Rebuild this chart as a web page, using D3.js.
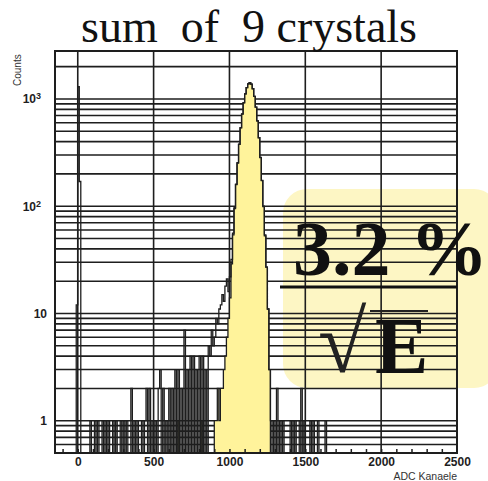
<!DOCTYPE html>
<html>
<head>
<meta charset="UTF-8" />
<script src="https://cdn.jsdelivr.net/npm/d3@7"></script>
<title>sum of 9 crystals</title>
<style>
    body { margin: 0; background: white; }
    svg { display: block; }
</style>
</head>
<body>
<script>
// histogram of all events (bin left edge in ADC channels, counts), empty bins left out
const binWidth = 10;
const allBins = [
    -10, 0, 10,
    80, 110, 130, 160, 180, 200, 230, 250, 280, 300, 320, 350, 370, 390, 420, 440,
    450, 470, 490, 510, 530, 540, 560, 580, 600, 620, 640, 660, 680,
    700, 720, 740, 760, 780, 800, 820, 840, 860, 870, 880, 890,
    900, 910, 920, 930, 940, 950, 960, 970, 980, 990, 1000, 1010, 1020, 1030, 1040, 1050, 1060, 1070, 1080, 1090,
    1100, 1110, 1120, 1130, 1140, 1150, 1160, 1170, 1180, 1190, 1200, 1210, 1220, 1230, 1240, 1250, 1260, 1270,
    1290, 1310, 1330, 1350, 1400, 1420, 1440, 1450, 1470, 1490, 1530, 1550, 1580, 1630
];
const allCounts = [
    12, 1300, 170,
    1, 1, 1, 1, 1, 1, 1, 1, 1, 1, 1, 2, 1, 1, 1, 1,
    2, 2, 1, 1, 2, 3, 2, 1, 2, 2, 3, 3, 2,
    7, 3, 4, 4, 3, 4, 4, 3, 5, 4, 7, 5,
    6, 9, 8, 11, 12, 15, 13, 18, 21, 16, 22, 32, 56, 97, 161, 255, 380, 540, 725, 925,
    1115, 1276, 1385, 1420, 1376, 1247, 1058, 840, 625, 436, 285, 174, 100, 54, 27, 11, 3, 1,
    1, 2, 1, 1, 1, 1, 1, 1, 2, 1, 1, 1, 1, 1
];
// yellow (selected) histogram
const peakBins = [
    660, 810, 900, 910, 920, 930, 940, 950, 960, 970, 980, 990, 1000, 1010, 1020, 1030, 1040, 1050, 1060, 1070,
    1080, 1090, 1100, 1110, 1120, 1130, 1140, 1150, 1160, 1170, 1180, 1190, 1200, 1210, 1220, 1230, 1240, 1250, 1260
];
const peakCounts = [
    1, 1, 1, 1, 2, 1, 2, 2, 3, 4, 6, 9, 14, 29, 54, 95, 159, 252, 377, 537,
    722, 921, 1113, 1274, 1382, 1420, 1374, 1245, 1056, 839, 624, 435, 284, 173, 99, 53, 27, 11, 3
];
const xTicks = [0, 500, 1000, 1500, 2000, 2500];
const xMinor = d3.range(-100, 2500, 100);
const yTicks = [1, 10, 100, 1000];
const yGrid = [0.6, 0.7, 0.8, 0.9, 1, 2, 3, 4, 5, 6, 7, 8, 9, 10, 20, 30, 40, 50, 60, 70, 80, 90,
    100, 200, 300, 400, 500, 600, 700, 800, 900, 1000, 2000];
const supers = {100: "2", 1000: "3"};

const W = 488, H = 481;
const fLeft = 55, fRight = 457, fTop = 51, fBottom = 453;

const svg = d3.select("body").append("svg").attr("width", W).attr("height", H);

const x = d3.scaleLinear().domain([-150, 2500]).range([fLeft, fRight]);
const y = d3.scaleLog().domain([0.5, 2800]).range([fBottom, fTop]);

// resolution box behind everything
svg.append("rect")
    .attr("x", 283).attr("y", 189).attr("width", 215).attr("height", 199)
    .attr("rx", 24).attr("fill", "#fdf6c4");

// grid
const grid = svg.append("g").attr("stroke", "#1e1e1e").attr("stroke-width", 1.6);
grid.selectAll("line.h").data(yGrid).enter().append("line")
    .attr("x1", fLeft).attr("x2", fRight)
    .attr("y1", d => y(d)).attr("y2", d => y(d));
grid.selectAll("line.v").data(xTicks.slice(0, -1)).enter().append("line")
    .attr("y1", fTop).attr("y2", fBottom)
    .attr("x1", d => x(d)).attr("x2", d => x(d));

svg.append("clipPath").attr("id", "frame").append("rect")
    .attr("x", fLeft).attr("y", fTop).attr("width", fRight - fLeft).attr("height", fBottom - fTop);

function stepPoints(bins, counts) {
    const m = new Map(bins.map((b, i) => [b, counts[i]]));
    const pts = [];
    for (let b = -150; b < 2500; b += binWidth) {
        const c = m.get(b) || 0;
        const yy = c > 0 ? y(c) : fBottom;
        pts.push([x(b), yy], [x(b + binWidth), yy]);
    }
    return pts;
}

const hist = svg.append("g").attr("clip-path", "url(#frame)");
const peakPts = stepPoints(peakBins, peakCounts);
hist.append("path")
    .attr("d", d3.area().x(d => d[0]).y0(fBottom).y1(d => d[1])(peakPts))
    .attr("fill", "#fff39b");
hist.append("path")
    .attr("d", d3.line()(peakPts))
    .attr("fill", "none").attr("stroke", "#1e1e1e").attr("stroke-width", 1.3);
hist.append("path")
    .attr("d", d3.line()(stepPoints(allBins, allCounts)))
    .attr("fill", "none").attr("stroke", "#1e1e1e").attr("stroke-width", 1.3);

// minor ticks
svg.append("g")
    .attr("transform", "translate(0," + fBottom + ")")
    .call(d3.axisBottom(x).tickValues(xMinor).tickSize(-4).tickFormat(""))
    .call(g => g.select(".domain").remove())
    .selectAll("line").attr("stroke", "#1e1e1e").attr("stroke-width", 1.5);

// frame
svg.append("rect")
    .attr("x", fLeft).attr("y", fTop).attr("width", fRight - fLeft).attr("height", fBottom - fTop)
    .attr("fill", "none").attr("stroke", "#1e1e1e").attr("stroke-width", 2);

// axis labels
const xAxis = svg.append("g")
    .attr("transform", "translate(0," + fBottom + ")")
    .call(d3.axisBottom(x).tickValues(xTicks).tickSize(0).tickPadding(4).tickFormat(d3.format("d")));
xAxis.select(".domain").remove();
xAxis.selectAll("text")
    .attr("font-family", "Liberation Sans, Arial, sans-serif")
    .attr("font-size", 12).attr("font-weight", "bold").attr("fill", "#1e1e1e");

const yAxis = svg.append("g")
    .attr("transform", "translate(" + fLeft + ",0)")
    .call(d3.axisLeft(y).tickValues(yTicks).tickSize(0).tickPadding(8).tickFormat(d => supers[d] ? "10" : d));
yAxis.select(".domain").remove();
yAxis.selectAll("text")
    .attr("font-family", "Liberation Sans, Arial, sans-serif")
    .attr("font-size", 12).attr("font-weight", "bold").attr("fill", "#1e1e1e")
    .each(function(d) {
        if (supers[d]) {
            d3.select(this).attr("dx", "-6");
            d3.select(this).append("tspan")
                .attr("dy", "-0.45em").attr("font-size", 9).text(supers[d]);
        }
    });

svg.append("text")
    .attr("transform", "translate(21,86) rotate(-90)")
    .attr("font-family", "Liberation Sans, Arial, sans-serif")
    .attr("font-size", 10).attr("fill", "#333")
    .text("Counts");

svg.append("text")
    .attr("x", fRight).attr("y", 480).attr("text-anchor", "end")
    .attr("font-family", "Liberation Sans, Arial, sans-serif")
    .attr("font-size", 10.5).attr("fill", "#333")
    .text("ADC Kanaele");

// title
svg.append("text")
    .attr("x", 249).attr("y", 42).attr("text-anchor", "middle")
    .attr("xml:space", "preserve").style("white-space", "pre")
    .attr("font-family", "Liberation Serif, Times New Roman, serif")
    .attr("font-size", 46).attr("fill", "#111")
    .text("sum  of  9 crystals");

// resolution formula
const serif = "Liberation Serif, Times New Roman, serif";
svg.append("text")
    .attr("x", 293).attr("y", 275)
    .attr("xml:space", "preserve").style("white-space", "pre")
    .attr("font-family", serif).attr("font-weight", "bold")
    .attr("font-size", 78).attr("fill", "#111")
    .text("3.2 %");
svg.append("line")
    .attr("x1", 280).attr("x2", 457).attr("y1", 287).attr("y2", 287)
    .attr("stroke", "#111").attr("stroke-width", 3);
svg.append("text")
    .attr("x", 318).attr("y", 372)
    .attr("font-family", serif).attr("font-size", 88).attr("fill", "#222")
    .text("√");
svg.append("line")
    .attr("x1", 370).attr("x2", 428).attr("y1", 311).attr("y2", 311)
    .attr("stroke", "#222").attr("stroke-width", 2);
svg.append("text")
    .attr("x", 375).attr("y", 373)
    .attr("font-family", serif).attr("font-weight", "bold")
    .attr("font-size", 80).attr("fill", "#111")
    .text("E");
</script>
</body>
</html>
